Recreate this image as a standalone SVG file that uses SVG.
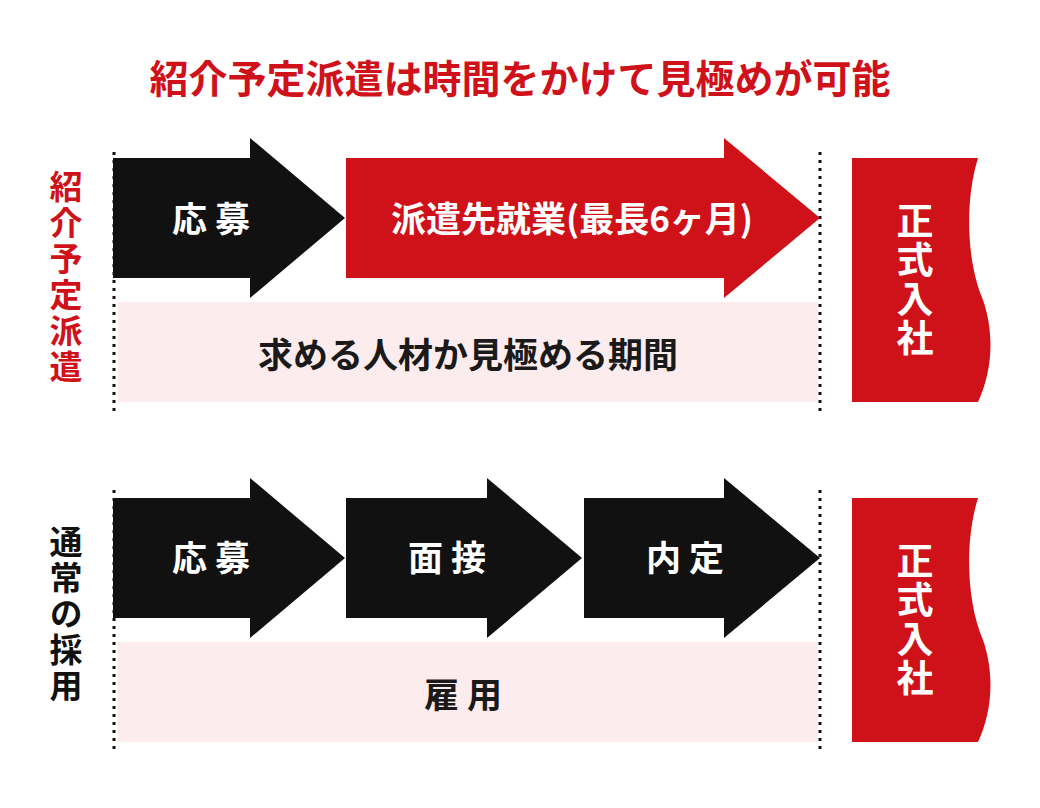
<svg xmlns="http://www.w3.org/2000/svg" width="1040" height="808" viewBox="0 0 1040 808">
<style>
text{font-family:"Noto Sans CJK JP","Noto Sans",sans-serif;font-weight:700}
.t{fill:#fff;font-size:35px;text-anchor:middle;dominant-baseline:central}
.d{fill:#111}
.r{fill:#cf111a}
.p{fill:#fdeced}
.k{fill:#1a1a1a;font-size:35px;text-anchor:middle;dominant-baseline:central}
.v{font-size:33px;writing-mode:vertical-rl;text-anchor:middle;letter-spacing:3px}
.w{fill:#fff;font-size:37px;writing-mode:vertical-rl;text-anchor:middle;letter-spacing:2px}
.dot{stroke:#111;stroke-width:3;stroke-dasharray:3 5}
</style>
<rect width="1040" height="808" fill="#fff"/>
<text x="520" y="76" class="r" font-size="39" text-anchor="middle" dominant-baseline="central">紹介予定派遣は時間をかけて見極めが可能</text>
<g id="conn">
<line class="dot" x1="114" y1="152" x2="114" y2="412"/>
<line class="dot" x1="820" y1="152" x2="820" y2="412"/>
<line class="dot" x1="114" y1="490" x2="114" y2="750"/>
<line class="dot" x1="820" y1="490" x2="820" y2="750"/>
</g>
<g id="label1"><text class="v r" x="66" y="278">紹介予定派遣</text></g>
<g id="label2"><text class="v d" x="66" y="615">通常の採用</text></g>
<g id="a1"><path class="d" d="M113 158H250V138L345 218L250 298V278H113Z"/><text class="t" x="215" y="216" letter-spacing="8">応募</text></g>
<g id="a2"><path class="r" d="M346 158H724V138L820 218L724 298V278H346Z"/><text class="t" x="572" y="216">派遣先就業(最長6ヶ月)</text></g>
<g id="band1"><rect class="p" x="118" y="302" width="700" height="100"/><text class="k" x="468" y="352">求める人材か見極める期間</text></g>
<g id="j1"><path class="r" d="M852 158H978C965 200 966 260 983 300C995 335 992 372 978 402H852Z"/><text class="w" x="915" y="280">正式入社</text></g>
<g id="b1"><path class="d" d="M113 498H250V478L345 558L250 638V618H113Z"/><text class="t" x="215" y="555" letter-spacing="8">応募</text></g>
<g id="b2"><path class="d" d="M346 498H487V478L582 558L487 638V618H346Z"/><text class="t" x="451" y="555" letter-spacing="8">面接</text></g>
<g id="b3"><path class="d" d="M584 498H724V478L820 558L724 638V618H584Z"/><text class="t" x="689" y="555" letter-spacing="8">内定</text></g>
<g id="band2"><rect class="p" x="118" y="642" width="700" height="100"/><text class="k" x="467" y="692" letter-spacing="8">雇用</text></g>
<g id="j2"><path class="r" d="M852 498H978C965 540 966 600 983 640C995 675 992 712 978 742H852Z"/><text class="w" x="915" y="620">正式入社</text></g>
</svg>
